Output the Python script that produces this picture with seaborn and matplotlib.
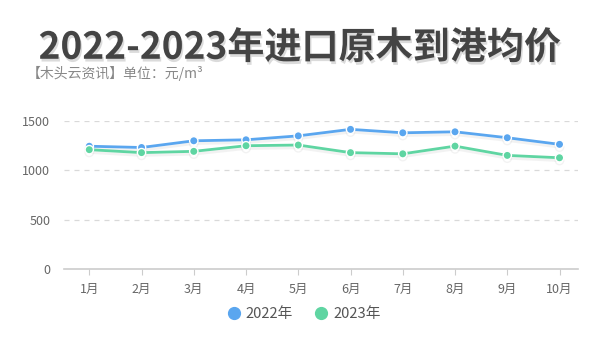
import pandas as pd
import numpy as np
import matplotlib.pyplot as plt
import matplotlib.patheffects as pe
import seaborn as sns

sns.set_style('white')
plt.rcParams['font.family'] = ['Noto Sans CJK SC', 'DejaVu Sans']
plt.rcParams['axes.unicode_minus'] = False

# ========== 数据 ==========
months = ['1月', '2月', '3月', '4月', '5月', '6月', '7月', '8月', '9月', '10月']
price_2022 = [1245, 1232, 1300, 1310, 1350, 1416, 1381, 1391, 1331, 1264]
price_2023 = [1210, 1180, 1193, 1250, 1257, 1180, 1168, 1246, 1152, 1128]
series = ['2022年', '2023年']
colors = ['#5aa6ef', '#5fd5a2']

df = pd.DataFrame({
    '月份': months * 2,
    '均价': price_2022 + price_2023,
    '年份': [series[0]] * len(months) + [series[1]] * len(months),
})
df['idx'] = list(range(len(months))) * 2

# ========== 绘图 ==========
fig = plt.figure(figsize=(6, 3.55), dpi=100)
ax = fig.add_axes([0.107, 0.242, 0.856, 0.417])

shadow = [pe.SimpleLineShadow(offset=(0, -2), shadow_color='#888888', alpha=0.1), pe.Normal()]
sns.lineplot(data=df, x='idx', y='均价', hue='年份', palette=colors, marker='o',
             markersize=6, markeredgecolor='white', markeredgewidth=1.0,
             linewidth=2, ax=ax, legend=False, path_effects=shadow)

ax.set_xlim(-0.48, 9.35)
ax.set_ylim(0, 1500)
ax.set_xticks(range(len(months)))
ax.set_xticklabels(months)
ax.set_yticks([0, 500, 1000, 1500])
ax.set_xlabel('')
ax.set_ylabel('')
ax.tick_params(axis='x', labelsize=9, length=4, width=0.8, pad=6,
               direction='out', bottom=True, labelcolor='#666666', color='#cccccc')
ax.tick_params(axis='y', labelcolor='#666666', labelsize=9, length=0, pad=10)

for y in [500, 1000, 1500]:
    ax.axhline(y, color='#d9d9d9', lw=0.9, ls=(0, (4, 4)), zorder=0)

for s in ['top', 'right', 'left']:
    ax.spines[s].set_visible(False)
ax.spines['bottom'].set_color('#cccccc')
ax.spines['bottom'].set_linewidth(1.2)

# 标题与副标题
fig.text(0.5, 0.864, '2022-2023年进口原木到港均价', ha='center', va='center',
         fontsize=26.7, fontweight='bold', color='#444444',
         path_effects=[pe.SimplePatchShadow(offset=(1, -2), shadow_rgbFace='#999999', alpha=0.35), pe.Normal()])
fig.text(0.044, 0.794, '【木头云资讯】单位：元/m³', ha='left', va='center',
         fontsize=10, color='#888888')

# 图例
handles = [plt.Line2D([], [], marker='o', ls='', color=c, markersize=8.5) for c in colors]
fig.legend(handles, series, loc='center', bbox_to_anchor=(0.5, 0.115), ncol=2, frameon=False,
           fontsize=10.6, handletextpad=-0.2, columnspacing=0.9, labelcolor='#555555')

fig.savefig('out.png', dpi=100)
